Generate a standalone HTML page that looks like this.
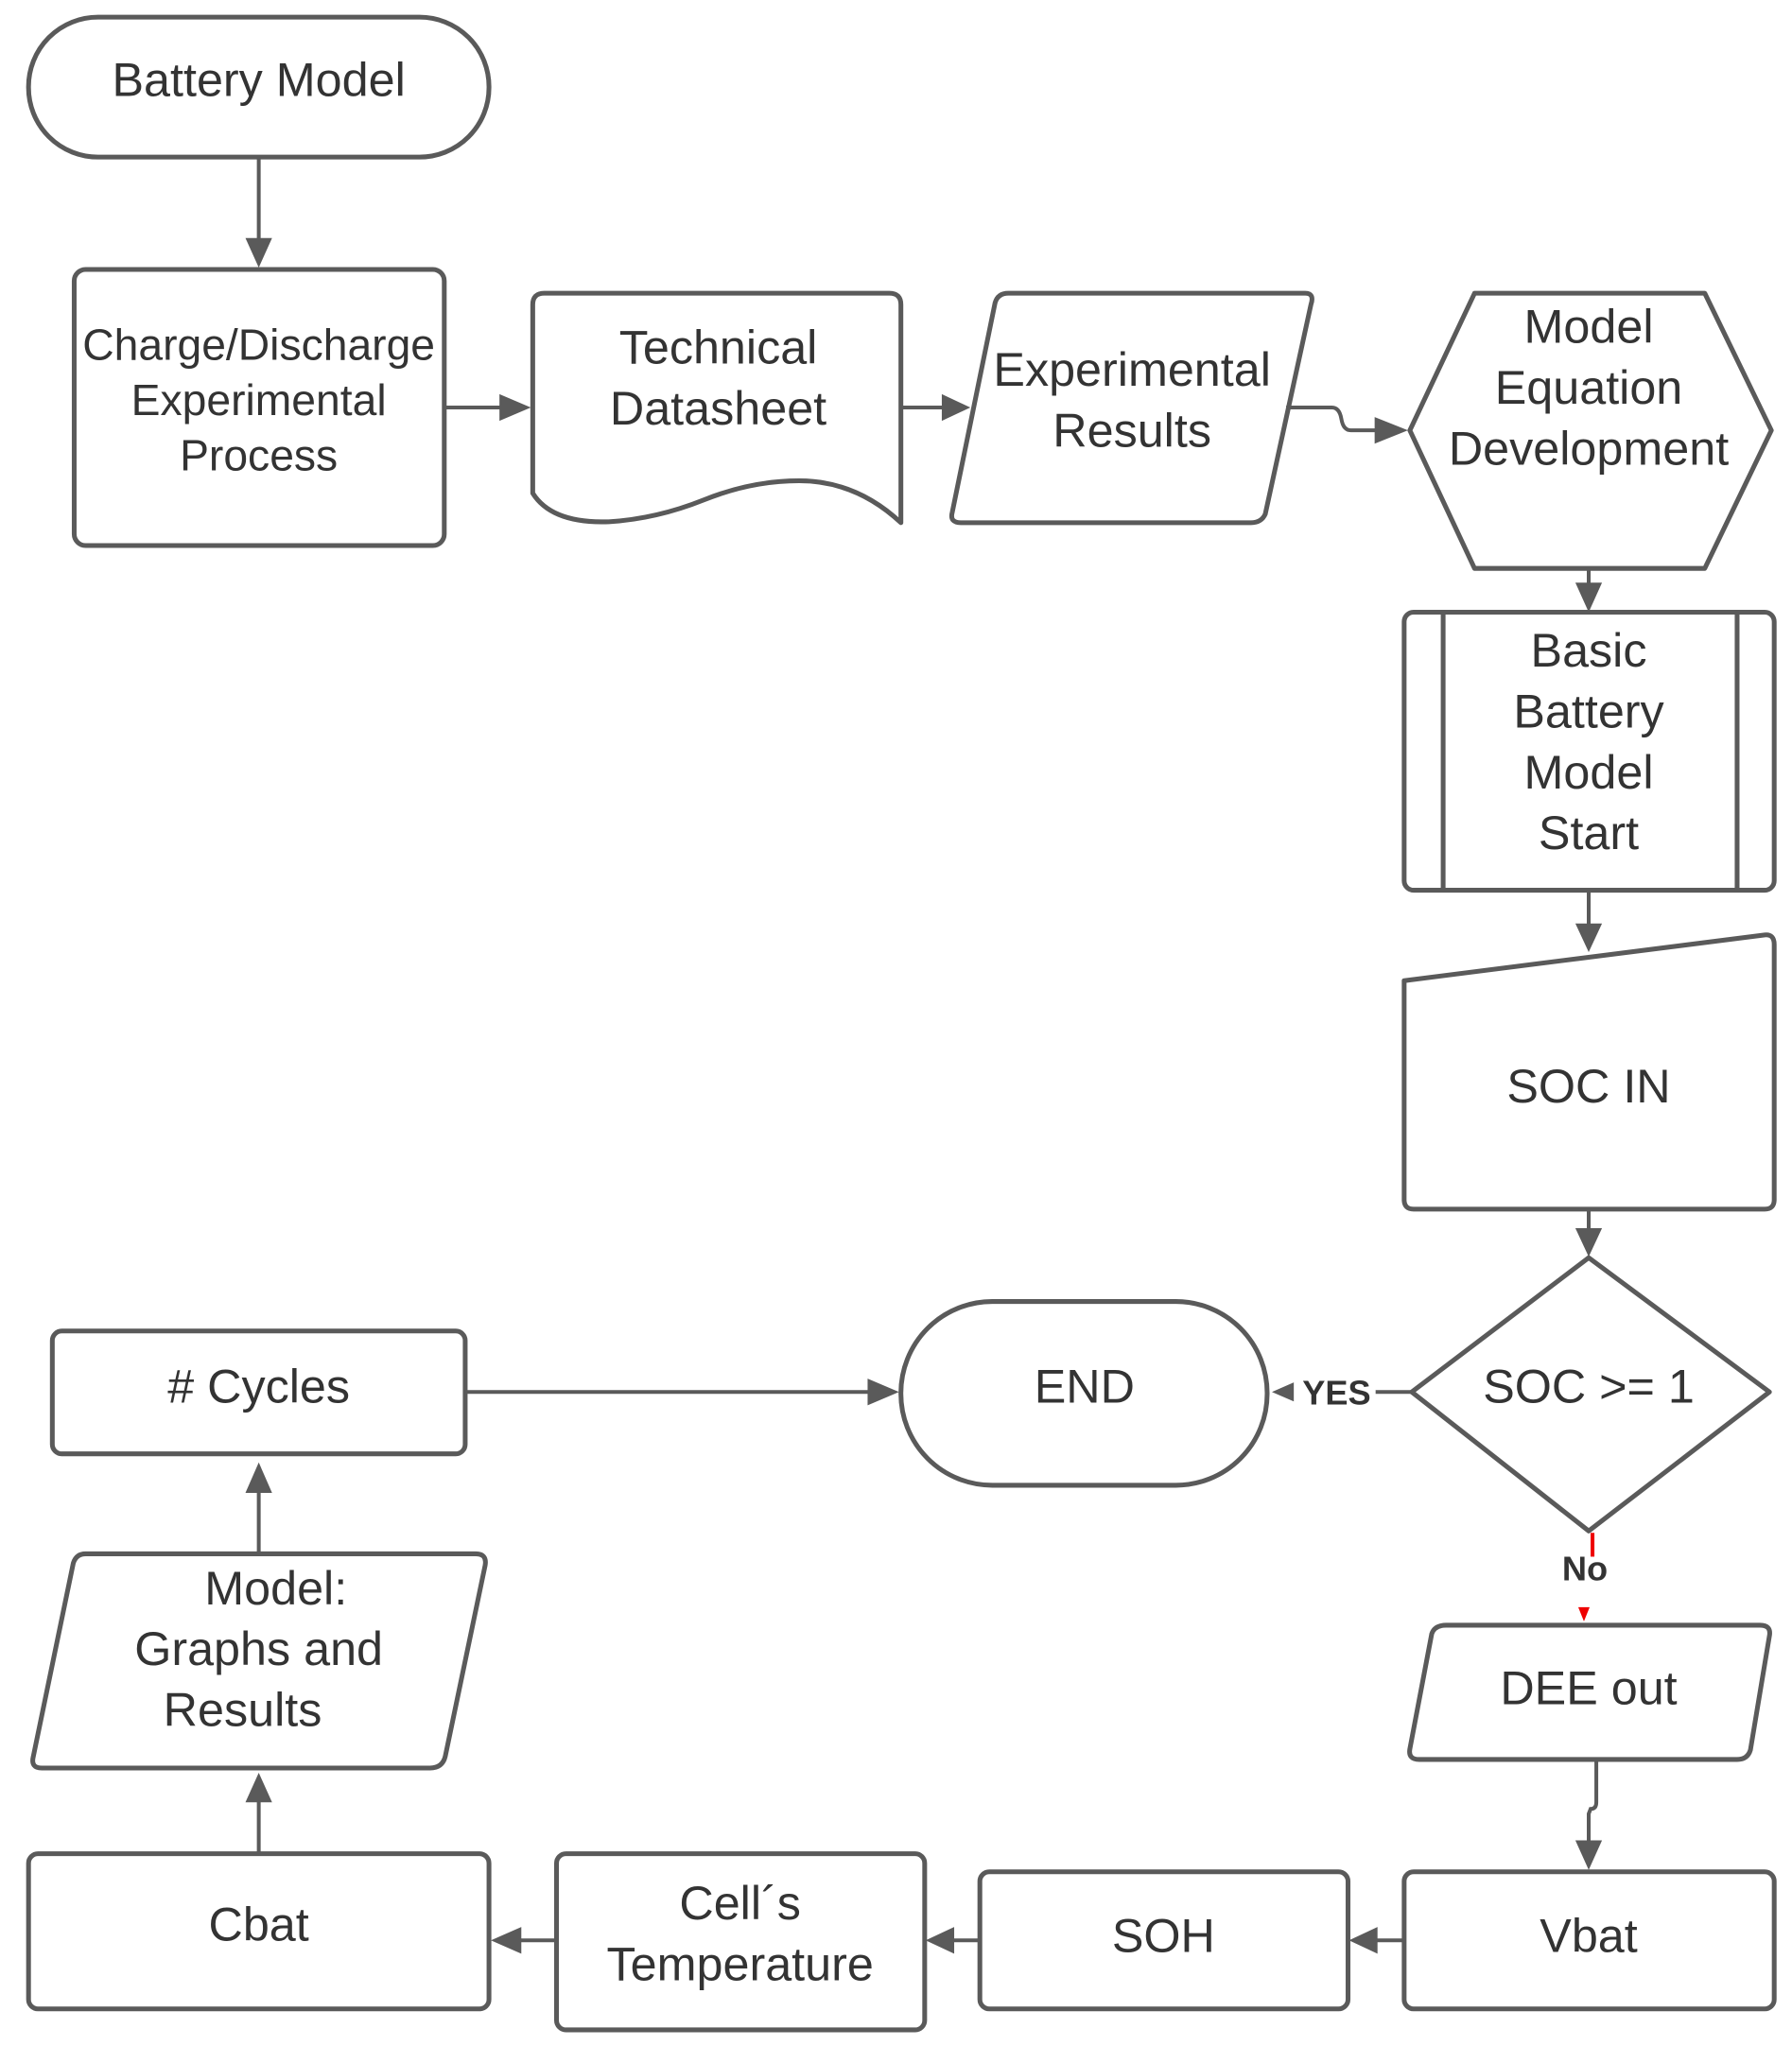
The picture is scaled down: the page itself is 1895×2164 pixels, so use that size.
<!DOCTYPE html>
<html><head><meta charset="utf-8"><style>
html,body{margin:0;padding:0;background:#fff;}
svg{display:block;}
text{font-family:"Liberation Sans",sans-serif;fill:#333;text-anchor:middle;}
</style></head><body>
<svg width="1895" height="2164" viewBox="0 0 1895 2164" xmlns="http://www.w3.org/2000/svg">
<g transform="scale(1.006,1.007)">
<g fill="#fff" stroke="#5a5a5a" stroke-width="5" stroke-linejoin="round">
<rect x="30" y="18" width="484" height="147" rx="73"/>
<rect x="78" y="283" width="389" height="290" rx="12"/>
<path d="M560 320 Q560 308 572 308 L935 308 Q947 308 947 320 L947 549 Q900 505 840 505 Q790 505 740 525 Q690 545 640 548 Q580 550 560 518 Z"/>
<path d="M1060 308 L1372 308 Q1382 308 1378 320 L1330 540 Q1326 549 1315 549 L1010 549 Q998 549 1001 538 L1046 318 Q1049 308 1060 308 Z"/>
<path d="M1550 308 L1792 308 L1862 452 L1792 597 L1550 597 L1482 452 Z"/>
<rect x="1476" y="643" width="389" height="292" rx="10"/>
<line x1="1517" y1="643" x2="1517" y2="935"/><line x1="1826" y1="643" x2="1826" y2="935"/>
<path d="M1476 1030 L1855 982 Q1865 981 1865 992 L1865 1260 Q1865 1270 1855 1270 L1486 1270 Q1476 1270 1476 1260 Z"/>
<path d="M1670 1321 L1860 1462 L1670 1608 L1484 1462 Z"/>
<rect x="947" y="1367" width="385" height="193" rx="96"/>
<rect x="55" y="1398" width="434" height="129" rx="10"/>
<path d="M1520 1707 L1850 1707 Q1862 1707 1860 1718 L1840 1838 Q1837 1848 1826 1848 L1492 1848 Q1480 1848 1482 1837 L1505 1716 Q1508 1707 1520 1707 Z"/>
<rect x="1476" y="1966" width="389" height="144" rx="10"/>
<rect x="1030" y="1966" width="387" height="144" rx="10"/>
<rect x="585" y="1947" width="387" height="185" rx="10"/>
<rect x="30" y="1947" width="484" height="163" rx="10"/>
<path d="M90 1632 L500 1632 Q512 1632 510 1644 L468 1845 Q465 1857 452 1857 L44 1857 Q32 1857 35 1845 L77 1642 Q80 1632 90 1632 Z"/>
</g>
<g stroke="#5a5a5a" stroke-width="4" fill="none">
<line x1="272" y1="165" x2="272" y2="255"/>
<line x1="467" y1="428" x2="530" y2="428"/>
<line x1="947" y1="428" x2="995" y2="428"/>
<path d="M1352 428 L1400 428 Q1408 428 1410 440 Q1412 452 1420 452 L1450 452"/>
<line x1="1670" y1="597" x2="1670" y2="615"/>
<line x1="1670" y1="935" x2="1670" y2="975"/>
<line x1="1670" y1="1270" x2="1670" y2="1295"/>
<line x1="1484" y1="1462" x2="1445" y2="1462"/>
<line x1="489" y1="1462" x2="915" y2="1462"/>
<path d="M1678 1848 L1678 1893 Q1678 1900 1672 1900 L1670 1905 L1670 1935"/>
<line x1="1476" y1="2038" x2="1445" y2="2038"/>
<line x1="1030" y1="2038" x2="1000" y2="2038"/>
<line x1="585" y1="2038" x2="545" y2="2038"/>
<line x1="272" y1="1947" x2="272" y2="1890"/>
<line x1="272" y1="1632" x2="272" y2="1565"/>
</g>
<g fill="#5a5a5a">
<path d="M258 250 L286 250 L272 281 Z"/>
<path d="M525 414 L525 442 L558 428 Z"/>
<path d="M990 414 L990 442 L1020 428 Z"/>
<path d="M1445 438 L1445 466 L1480 452 Z"/>
<path d="M1656 612 L1684 612 L1670 643 Z"/>
<path d="M1656 970 L1684 970 L1670 1000 Z"/>
<path d="M1656 1290 L1684 1290 L1670 1320 Z"/>
<path d="M1337 1462 L1360 1452 L1360 1472 Z"/>
<path d="M912 1448 L912 1476 L945 1462 Z"/>
<path d="M1656 1933 L1684 1933 L1670 1964 Z"/>
<path d="M1448 2024 L1448 2052 L1418 2038 Z"/>
<path d="M1003 2024 L1003 2052 L973 2038 Z"/>
<path d="M548 2024 L548 2052 L516 2038 Z"/>
<path d="M258 1893 L286 1893 L272 1862 Z"/>
<path d="M258 1568 L286 1568 L272 1536 Z"/>
</g>
<line x1="1674" y1="1610" x2="1674" y2="1635" stroke="#e00" stroke-width="4"/>
<path d="M1659 1688 L1671 1688 L1665 1703 Z" fill="#e00"/>
<g font-size="50">
<text x="272" y="101">Battery Model</text>
<text x="272" y="378" font-size="46">Charge/Discharge</text>
<text x="272" y="436" font-size="46">Experimental</text>
<text x="272" y="494" font-size="46">Process</text>
<text x="755" y="382">Technical</text>
<text x="755" y="446">Datasheet</text>
<text x="1190" y="405">Experimental</text>
<text x="1190" y="469">Results</text>
<text x="1670" y="360">Model</text>
<text x="1670" y="424">Equation</text>
<text x="1670" y="488">Development</text>
<text x="1670" y="700">Basic</text>
<text x="1670" y="764">Battery</text>
<text x="1670" y="828">Model</text>
<text x="1670" y="892">Start</text>
<text x="1670" y="1158">SOC IN</text>
<text x="1670" y="1473">SOC &gt;= 1</text>
<text x="1140" y="1473">END</text>
<text x="272" y="1473"># Cycles</text>
<text x="1670" y="1790">DEE out</text>
<text x="1670" y="2050">Vbat</text>
<text x="1223" y="2050">SOH</text>
<text x="778" y="2016">Cell´s</text>
<text x="778" y="2080">Temperature</text>
<text x="272" y="2038">Cbat</text>
<text x="290" y="1685">Model:</text>
<text x="272" y="1749">Graphs and</text>
<text x="255" y="1813">Results</text>
</g>
<rect x="1362" y="1440" width="84" height="40" fill="#fff"/>
<text x="1405" y="1475" font-size="36" font-weight="bold">YES</text>
<text x="1666" y="1660" font-size="36" font-weight="bold">No</text>
</g>
</svg>
</body></html>
